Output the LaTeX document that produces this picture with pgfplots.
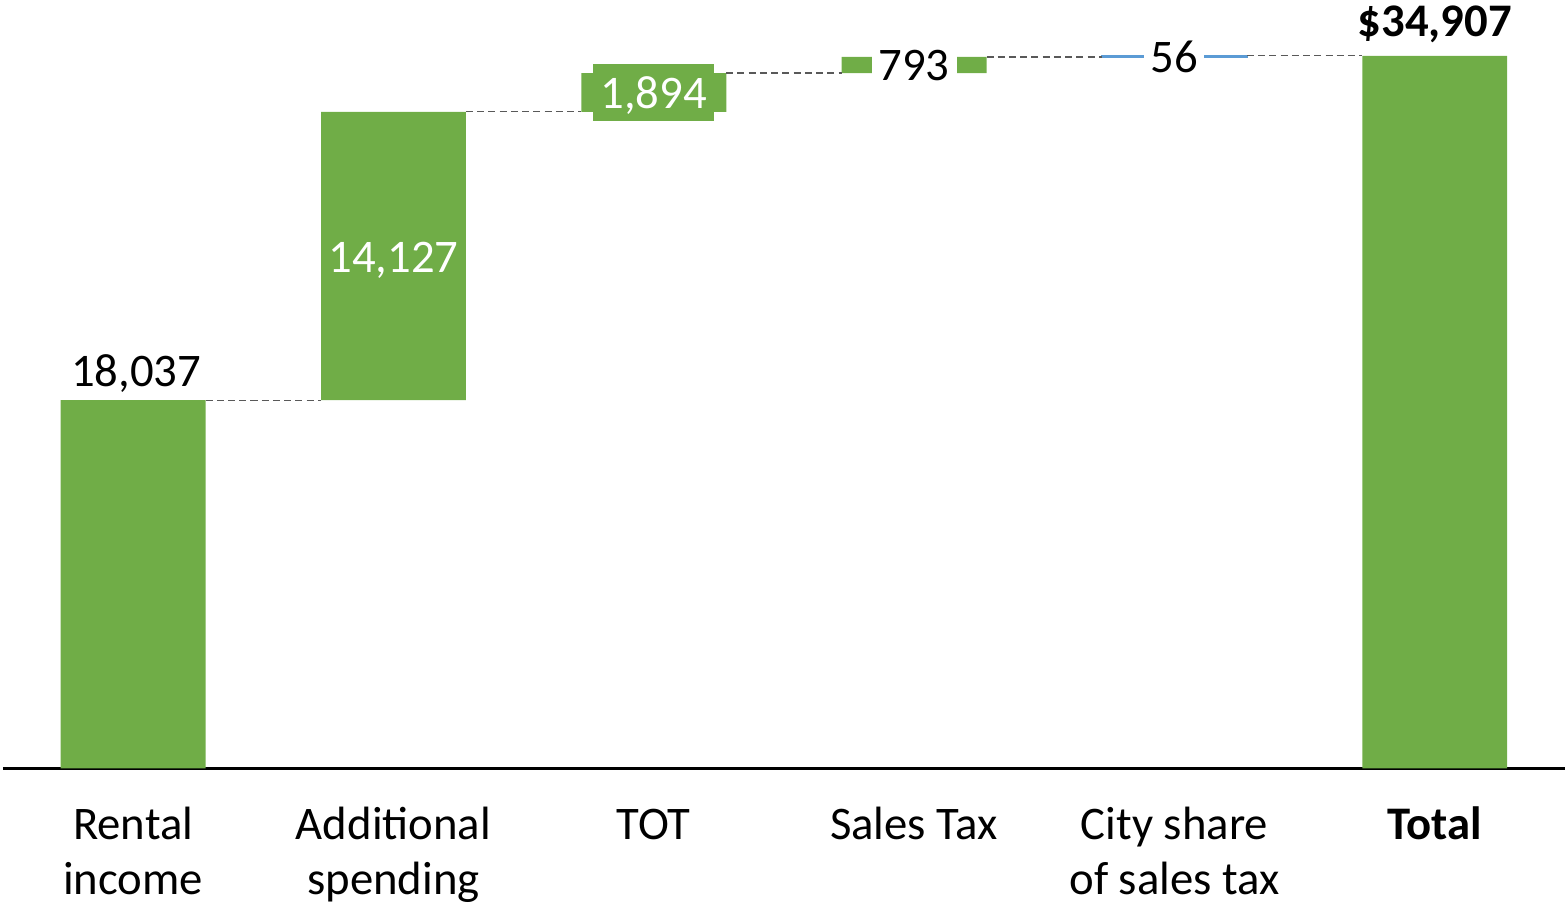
\documentclass[border=0pt]{standalone}
\usepackage{fontspec}
\setmainfont{Carlito}
\usepackage{pgfplots}
\pgfplotsset{compat=1.18}
\definecolor{wfgreen}{HTML}{70AD47}
\definecolor{wfblue}{HTML}{5B9BD5}
\definecolor{connector}{HTML}{595959}

\begin{document}
\begin{tikzpicture}[font=\fontsize{13.3}{15.7}\selectfont]
\pgfplotsset{
  wf/.style={
    scale only axis,
    width=15.63cm, height=7.69cm,
    xmin=-0.5, xmax=5.5, ymin=0, ymax=37640,
  },
  conn/.style={no markers, draw=connector, line width=0.35pt,
    dash pattern=on 2pt off 1.2pt},
}
% bars: invisible base + visible step
\begin{axis}[
  wf,
  ybar stacked, bar width=1.45cm,
  axis x line=bottom, axis y line=none,
  axis line style={-, black, line width=0.6pt},
  xtick={0,...,5}, major tick length=0,
  xticklabels={{\strut Rental\\income}, {\strut Additional\\spending}, \strut TOT,
               \strut Sales Tax, {\strut City share\\of sales tax}, \strut\textbf{Total}},
  xticklabel style={align=center, inner sep=0pt, yshift=-0.32cm},
]
\addplot[draw=none, fill=none] coordinates {
  (0,0) (1,18037) (2,32164) (3,34058) (4,34851) (5,0)
};
\addplot[draw=none, fill=wfgreen] coordinates {
  (0,18037) (1,14127) (2,1894) (3,793) (4,0) (5,34907)
};
\addplot[draw=wfblue, line width=0.5pt, fill=wfblue] coordinates {
  (0,0) (1,0) (2,0) (3,0) (4,56) (5,0)
};
\end{axis}

% connectors and value labels
\begin{axis}[wf, hide axis]
\addplot[conn] coordinates {(0.278,18037) (0.722,18037)};
\addplot[conn] coordinates {(1.278,32164) (1.722,32164)};
\addplot[conn] coordinates {(2.278,34058) (2.722,34058)};
\addplot[conn] coordinates {(3.278,34851) (3.722,34851)};
\addplot[conn] coordinates {(4.278,34907) (4.722,34907)};

\node[anchor=base, inner sep=0pt] at (axis cs:0.012,18698) {18,037};
\node[anchor=base, inner sep=0pt, text=white] at (axis cs:1,24278) {14,127};
\node[fill=wfgreen, text=white, minimum width=1.21cm, minimum height=0.57cm,
      text depth=0pt, inner sep=0pt] at (axis cs:2,33111) {1,894};
\node[fill=white, minimum width=0.85cm, minimum height=0.4cm,
      text depth=0pt, inner sep=0pt] at (axis cs:3,34454) {793};
\node[fill=white, minimum width=0.6cm, minimum height=0.3cm,
      text depth=0pt, inner sep=0pt] at (axis cs:4,34879) {56};
\node[anchor=base, inner sep=0pt, font=\fontsize{13.3}{15.7}\selectfont\bfseries]
  at (axis cs:5,35830) {\$34,907};
\end{axis}
% page frame: full axis height plus the room below for the category names
\path ([xshift=-0.03cm,yshift=-1.38cm]current axis.south west)
  rectangle (current axis.north east);
\end{tikzpicture}
\end{document}
